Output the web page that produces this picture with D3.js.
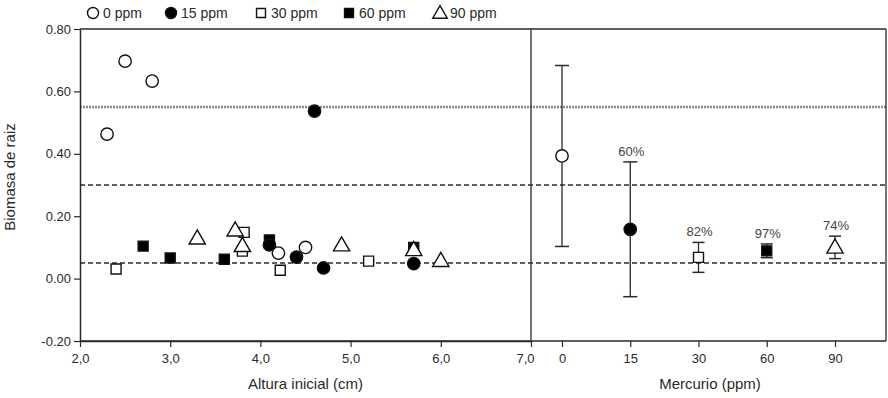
<!DOCTYPE html>
<html>
<head>
<meta charset="utf-8">
<script src="https://cdn.jsdelivr.net/npm/d3@7"></script>
<style>
  body { margin: 0; background: #fff; }
  svg { display: block; font-family: "Liberation Sans", Arial, sans-serif; }
</style>
</head>
<body>
<svg id="chart" width="888" height="398"></svg>
<script>
// ---- Data ----
const seriesNames = ["0 ppm", "15 ppm", "30 ppm", "60 ppm", "90 ppm"];
// Left panel: initial height (cm) vs root biomass, per treatment
const ppm0 = [[2.3, 0.463], [2.5, 0.697], [2.8, 0.633], [4.2, 0.082], [4.5, 0.100]];
const ppm15 = [[4.6, 0.537], [4.1, 0.108], [4.4, 0.069], [4.7, 0.034], [5.7, 0.048]];
const ppm30 = [[2.4, 0.031], [3.82, 0.148], [3.8, 0.088], [4.22, 0.027], [5.2, 0.056]];
const ppm60 = [[2.7, 0.104], [3.0, 0.066], [3.6, 0.062], [4.1, 0.124], [5.7, 0.100]];
const ppm90 = [[3.3, 0.129], [3.72, 0.155], [3.8, 0.105], [4.9, 0.107], [5.7, 0.092], [6.0, 0.057]];
// Right panel: means with error bars by mercury level
const mercuryLevels = ["0", "15", "30", "60", "90"];
const meanValues = [0.393, 0.158, 0.068, 0.089, 0.100];
const errValues = [0.290, 0.216, 0.048, 0.022, 0.036];
const pctLabels = ["", "60%", "82%", "97%", "74%"];
// Reference lines
const refLines = [0.55, 0.30, 0.05];
// Ticks
const yTicks = [-0.2, 0, 0.2, 0.4, 0.6, 0.8];
const xTicks = [2, 3, 4, 5, 6, 7];

(function () {
// ---- Layout ----
const svg = d3.select("#chart");
const mLeft = 80, mTop = 29, mBottom = 341, divider = 531, mRight = 886;
const ink = "#2a2a2a";

const y = d3.scaleLinear().domain([-0.2, 0.8]).range([mBottom, mTop]);
const xL = d3.scaleLinear().domain([2, 7]).range([mLeft, divider]);
const xR = d3.scalePoint().domain(mercuryLevels).range([562, 835]);

// reference lines (across both panels)
svg.selectAll("line.ref").data(refLines).enter().append("line")
  .attr("x1", mLeft).attr("x2", mRight)
  .attr("y1", d => y(d)).attr("y2", d => y(d))
  .attr("stroke", (d, i) => i === 0 ? "#8a8a8a" : ink)
  .attr("stroke-width", (d, i) => i === 0 ? 2.4 : 1.5)
  .attr("stroke-dasharray", (d, i) => i === 0 ? "2,1" : "5,3");

// frame
svg.append("line").attr("x1", mLeft).attr("x2", mRight).attr("y1", mTop).attr("y2", mTop).attr("stroke", ink).attr("stroke-width", 1.5);
svg.append("line").attr("x1", mLeft).attr("x2", mRight).attr("y1", mBottom).attr("y2", mBottom).attr("stroke", ink).attr("stroke-width", 1.5);
svg.append("line").attr("x1", divider).attr("x2", divider).attr("y1", mTop).attr("y2", mBottom).attr("stroke", ink).attr("stroke-width", 1.3);
svg.append("line").attr("x1", mRight).attr("x2", mRight).attr("y1", mTop).attr("y2", mBottom).attr("stroke", ink).attr("stroke-width", 1.3);

// axes
const fmtY = d => d3.format(".2f")(d).replace("\u2212", "-");
const yAxis = svg.append("g").attr("transform", `translate(${mLeft},0)`)
  .call(d3.axisLeft(y).tickValues(yTicks).tickFormat(fmtY).tickSize(6).tickSizeOuter(0));
const xAxisL = svg.append("g").attr("transform", `translate(0,${mBottom})`)
  .call(d3.axisBottom(xL).tickValues(xTicks).tickFormat(d => d3.format(".1f")(d).replace(".", ",")).tickSize(6).tickSizeOuter(0));
const xAxisR = svg.append("g").attr("transform", `translate(0,${mBottom})`)
  .call(d3.axisBottom(xR).tickSize(6).tickSizeOuter(0));
[yAxis, xAxisL, xAxisR].forEach(g => {
  g.select(".domain").attr("stroke", ink).attr("stroke-width", 1.5);
  g.selectAll(".tick line").attr("stroke", ink).attr("stroke-width", 1.2);
  g.selectAll("text").attr("fill", ink).style("font-size", "13px");
});
xAxisR.select(".domain").remove();
xAxisL.selectAll("text").attr("dy", "1em");
xAxisL.selectAll(".tick").filter(d => d === 7).select("text").attr("dx", "-6");
xAxisR.selectAll("text").attr("dy", "1em");
yAxis.selectAll("text").attr("x", -9);

// axis titles
svg.append("text").attr("transform", `translate(15,${(mTop + mBottom) / 2 - 8}) rotate(-90)`)
  .attr("text-anchor", "middle").attr("fill", ink).style("font-size", "15px").text("Biomasa de raiz");
svg.append("text").attr("x", (mLeft + divider) / 2).attr("y", 389)
  .attr("text-anchor", "middle").attr("fill", ink).style("font-size", "15px").text("Altura inicial (cm)");
svg.append("text").attr("x", 710).attr("y", 389)
  .attr("text-anchor", "middle").attr("fill", ink).style("font-size", "15px").text("Mercurio (ppm)");

// marker styles
const styles = [
  { sym: d3.symbolCircle, size: 120, fill: "#fff" },
  { sym: d3.symbolCircle, size: 120, fill: "#000" },
  { sym: d3.symbolSquare, size: 100, fill: "#fff" },
  { sym: d3.symbolSquare, size: 100, fill: "#000" },
  { sym: d3.symbolTriangle, size: 115, fill: "#fff" }
];
function marker(g, i, cx, cy, scale) {
  const s = styles[i];
  g.append("path")
    .attr("d", d3.symbol().type(s.sym).size(s.size * (scale || 1))())
    .attr("transform", `translate(${cx},${cy})` + (s.sym === d3.symbolTriangle ? " translate(0,1)" : ""))
    .attr("fill", s.fill).attr("stroke", "#111").attr("stroke-width", 1.4);
}

// left panel scatter
const leftSeries = [ppm0, ppm15, ppm30, ppm60, ppm90];
const drawOrder = [3, 2, 1, 0, 4];
const gL = svg.append("g");
drawOrder.forEach(i => {
  leftSeries[i].forEach(p => marker(gL, i, xL(p[0]), y(p[1])));
});

// right panel: error bars + means
const gR = svg.append("g");
mercuryLevels.forEach((lvl, i) => {
  const cx = xR(lvl);
  const hi = meanValues[i] + errValues[i], lo = meanValues[i] - errValues[i];
  const cap = i < 2 ? 7 : 6;
  gR.append("line").attr("x1", cx).attr("x2", cx).attr("y1", y(hi)).attr("y2", y(lo)).attr("stroke", ink).attr("stroke-width", 1.3);
  [hi, lo].forEach(v => gR.append("line").attr("x1", cx - cap).attr("x2", cx + cap)
    .attr("y1", y(v)).attr("y2", y(v)).attr("stroke", ink).attr("stroke-width", 1.5));
  marker(gR, i, cx, y(meanValues[i]));
  if (pctLabels[i]) {
    gR.append("text").attr("x", cx + 1).attr("y", y(hi) - 6)
      .attr("text-anchor", "middle").attr("fill", "#444").style("font-size", "13px").text(pctLabels[i]);
  }
});

// legend
const legendX = [93, 171, 261, 349, 440];
const gLeg = svg.append("g");
seriesNames.forEach((name, i) => {
  marker(gLeg, i, legendX[i], 13, 0.8);
  gLeg.append("text").attr("x", legendX[i] + 10).attr("y", 18)
    .attr("fill", ink).style("font-size", "14px").text(name);
});
})();
</script>
</body>
</html>
